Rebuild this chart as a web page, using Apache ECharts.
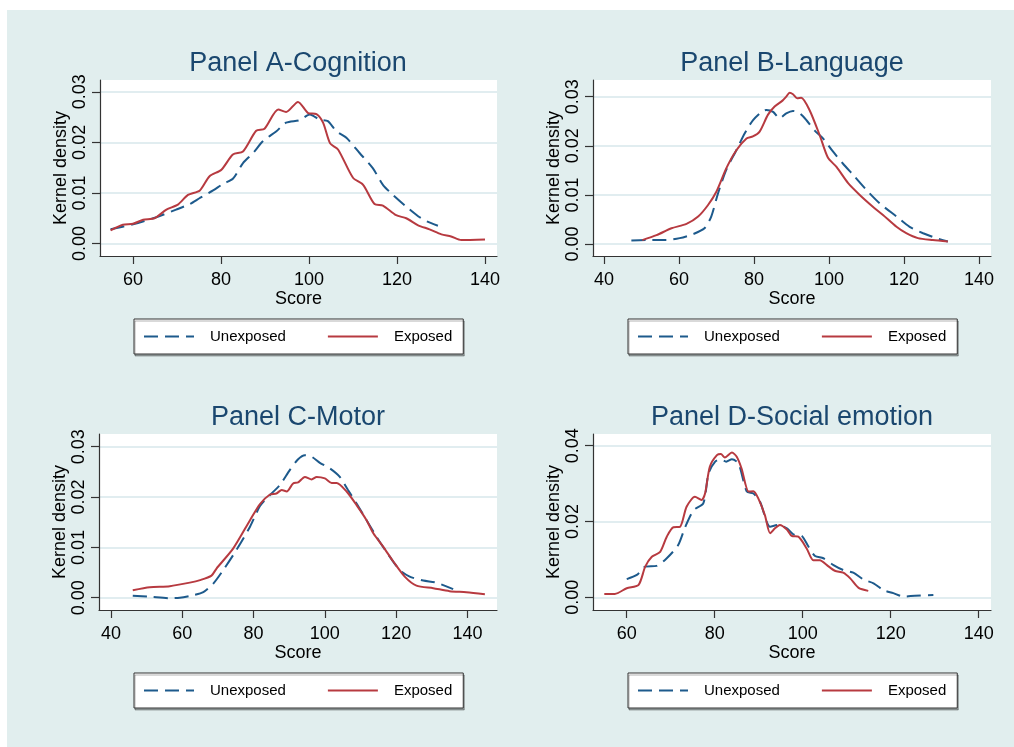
<!DOCTYPE html>
<html>
<head>
<meta charset="utf-8">
<script src="https://cdn.jsdelivr.net/npm/echarts@6/dist/echarts.min.js"></script>
<style>
html,body{margin:0;padding:0;background:#fff;}
#c{width:1014px;height:747px;}
</style>
</head>
<body>
<div id="c"></div>
<script>
// ---- Data ----
const panelTitles = ['Panel A-Cognition', 'Panel B-Language', 'Panel C-Motor', 'Panel D-Social emotion'];
const seriesNames = ['Unexposed', 'Exposed'];
const xTicksA = [60, 80, 100, 120, 140];
const xTicksB = [40, 60, 80, 100, 120, 140];
const xTicksC = [40, 60, 80, 100, 120, 140];
const xTicksD = [60, 80, 100, 120, 140];
const yTicksABC = [0, 0.01, 0.02, 0.03];
const yTicksD = [0, 0.02, 0.04];

const cognitionUnexposed = [[54.9,0.0028],[60,0.0038],[65.3,0.0052],[69.8,0.0067],[72.9,0.0078],[75.2,0.0090],[78.2,0.0105],[80.5,0.0118],[82.7,0.0128],[85,0.0159],[87.3,0.0179],[89.5,0.0202],[92.6,0.0222],[94.8,0.0239],[97.9,0.0244],[100.2,0.0255],[102.4,0.0245],[104.3,0.0242],[106.2,0.0222],[108.5,0.0209],[111.5,0.0179],[114.5,0.0149],[116.8,0.0116],[119.1,0.0096],[122.1,0.0073],[124.8,0.0054],[126.7,0.0044],[129.3,0.0035]];
const cognitionExposed = [[54.9,0.0026],[57.7,0.0037],[60,0.0039],[62.3,0.0047],[64.9,0.0050],[67.6,0.0067],[70.2,0.0077],[72.5,0.0096],[75.2,0.0105],[77.4,0.0133],[80.1,0.0146],[82.7,0.0176],[85.0,0.0182],[88.0,0.0223],[89.9,0.0227],[93.0,0.0265],[94.8,0.0260],[97.5,0.0280],[99.8,0.0258],[101.7,0.0256],[103.2,0.0239],[104.8,0.0198],[106.6,0.0186],[110,0.0130],[112.3,0.0116],[114.9,0.0078],[116.8,0.0075],[119.8,0.0056],[122.1,0.0050],[124.8,0.0036],[127.4,0.0028],[130.1,0.0018],[132.3,0.0014],[134.6,0.0007],[140,0.0008]];
const languageUnexposed = [[47.3,0.0007],[51.7,0.0008],[56.6,0.0008],[60.2,0.0012],[63.7,0.0020],[66.8,0.0032],[68.6,0.0056],[70.4,0.0103],[72.6,0.0151],[75.3,0.0191],[77.5,0.0225],[79.7,0.0252],[82.0,0.0269],[83.3,0.0273],[85.1,0.0269],[86.8,0.0256],[88.6,0.0266],[90.4,0.0271],[92.2,0.0266],[94.0,0.0252],[96.2,0.0231],[98.4,0.0215],[101.1,0.0188],[103.7,0.0164],[106.4,0.0141],[110.0,0.0110],[113.5,0.0083],[118.0,0.0056],[121.5,0.0035],[125.1,0.0022],[128.6,0.0012],[131.7,0.0005]];
const languageExposed = [[50.2,0.0008],[54.0,0.0018],[58.0,0.0032],[62.0,0.0041],[65.1,0.0056],[67.7,0.0079],[70.0,0.0107],[72.6,0.0154],[75.3,0.0191],[78.0,0.0215],[79.7,0.0219],[81.5,0.0229],[83.7,0.0263],[85.5,0.0280],[87.6,0.0292],[88.6,0.0300],[89.5,0.0308],[90.4,0.0305],[91.5,0.0297],[92.6,0.0298],[94.8,0.0273],[97.5,0.0222],[99.7,0.0176],[102.0,0.0157],[105.1,0.0124],[108.2,0.0100],[111.7,0.0076],[114.4,0.0059],[118.0,0.0035],[120.6,0.0022],[123.7,0.0012],[127.7,0.0008],[131.7,0.0005]];
const motorUnexposed = [[46.1,0.0004],[50.9,0.0002],[56.5,-0.0001],[59.3,0.0000],[63.1,0.0005],[65.9,0.0011],[68.7,0.0028],[71.5,0.0055],[75.2,0.0095],[79.0,0.0141],[81.8,0.0182],[84.6,0.0204],[87.4,0.0224],[90.2,0.0254],[92.5,0.0275],[94.4,0.0283],[96.3,0.0280],[98.6,0.0268],[101.4,0.0257],[104.2,0.0240],[106.5,0.0214],[108.9,0.0187],[111.7,0.0154],[114.5,0.0121],[117.3,0.0091],[121.0,0.0055],[123.8,0.0042],[127.6,0.0034],[131.3,0.0030],[136.0,0.0017]];
const motorExposed = [[46.1,0.0015],[50.9,0.0021],[56.5,0.0023],[62.1,0.0030],[65.0,0.0035],[68.2,0.0044],[69.6,0.0058],[74.3,0.0098],[79.0,0.0154],[81.8,0.0186],[84.6,0.0205],[86.4,0.0207],[87.9,0.0214],[89.3,0.0211],[91.1,0.0227],[92.5,0.0229],[94.4,0.0240],[96.3,0.0235],[97.7,0.0240],[100.0,0.0237],[101.9,0.0228],[103.3,0.0228],[106.1,0.0211],[108.9,0.0184],[111.7,0.0154],[113.6,0.0128],[116.4,0.0101],[119.2,0.0072],[122.4,0.0042],[125.7,0.0024],[130.4,0.0019],[135.0,0.0013],[139.7,0.0011],[144.9,0.0007]];
const socialUnexposed = [[60,0.0048],[62.3,0.0059],[64.2,0.0081],[66.8,0.0083],[69.1,0.0103],[71.7,0.0138],[73.3,0.0186],[75.2,0.0230],[77.4,0.0248],[78.6,0.0327],[80.1,0.0358],[81.4,0.0364],[82.6,0.0358],[83.9,0.0364],[85.4,0.0353],[87.3,0.0279],[88.8,0.0274],[90.3,0.0252],[92.6,0.0186],[94.5,0.0191],[96.4,0.0182],[97.9,0.0166],[99.8,0.0162],[101.3,0.0134],[102.8,0.0109],[104.7,0.0103],[107.0,0.0085],[109.2,0.0072],[111.5,0.0065],[113.8,0.0047],[116.1,0.0037],[118.3,0.0019],[120.6,0.0011],[122.9,0.0002],[125.5,0.0004],[129.7,0.0006]];
const socialExposed = [[54.9,0.0009],[57.3,0.0009],[60,0.0024],[62.7,0.0033],[64.2,0.0081],[65.7,0.0107],[67.6,0.0120],[69.1,0.0160],[70.6,0.0185],[72.1,0.0186],[73.6,0.0239],[75.5,0.0265],[77.0,0.0257],[77.8,0.0274],[78.9,0.0345],[80.5,0.0375],[81.4,0.0378],[82.3,0.0369],[83.9,0.0382],[85.0,0.0371],[86.1,0.0340],[87.7,0.0279],[88.8,0.0280],[89.9,0.0261],[91.4,0.0217],[92.6,0.0169],[93.7,0.0182],[94.8,0.0191],[96.4,0.0179],[97.5,0.0162],[99.0,0.0160],[100.9,0.0129],[102.4,0.0098],[103.9,0.0098],[105.5,0.0085],[107.3,0.0070],[109.2,0.0065],[110.8,0.0050],[112.7,0.0025],[114.9,0.0017]];

// ---- Layout / style ----
const FONT = "'Liberation Sans', Arial, sans-serif";
const BLUE = '#1d5a8c';
const RED = '#b73a40';
const TITLE_COLOR = '#1a476f';

const panels = [
  {grid:{left:100, top:80, width:397, height:176}, xr:[52.5,142.73], yr:[-0.00247,0.03233], xt:xTicksA, yt:yTicksABC, data:[cognitionUnexposed, cognitionExposed], tx:298, ty:64, legend:{left:134, top:319}},
  {grid:{left:593, top:80, width:398, height:176}, xr:[37.07,143.2], yr:[-0.00244,0.0334], xt:xTicksB, yt:yTicksABC, data:[languageUnexposed, languageExposed], tx:792, ty:64, legend:{left:628, top:319}},
  {grid:{left:99, top:434, width:398, height:176}, xr:[36.63,148.3], yr:[-0.00244,0.03252], xt:xTicksC, yt:yTicksABC, data:[motorUnexposed, motorExposed], tx:298, ty:418, legend:{left:134, top:673}},
  {grid:{left:593, top:434, width:398, height:176}, xr:[52.33,142.8], yr:[-0.00335,0.04309], xt:xTicksD, yt:yTicksD, data:[socialUnexposed, socialExposed], tx:792, ty:418, legend:{left:628, top:673}}
];

const grids = [], xAxes = [], yAxes = [], series = [], legends = [], graphics = [];

graphics.push({type:'rect', shape:{x:7, y:10, width:1007, height:737}, style:{fill:'#e1eeee'}, z:-10, silent:true});

panels.forEach((p, i) => {
  grids.push(Object.assign({show:true, backgroundColor:'#ffffff', borderWidth:0}, p.grid));
  xAxes.push({
    type:'value', gridIndex:i, min:p.xr[0], max:p.xr[1],
    name:'Score', nameLocation:'middle', nameGap:32,
    nameTextStyle:{fontFamily:FONT, fontSize:18, color:'#000'},
    axisLine:{show:true, onZero:false, lineStyle:{color:'#333', width:1.2}},
    axisTick:{show:true, length:8, customValues:p.xt, lineStyle:{color:'#333', width:1.2}},
    axisLabel:{customValues:p.xt, margin:15, fontFamily:FONT, fontSize:18, color:'#000'},
    splitLine:{show:false}
  });
  yAxes.push({
    type:'value', gridIndex:i, min:p.yr[0], max:p.yr[1],
    name:'Kernel density', nameLocation:'middle', nameGap:30, nameRotate:90,
    nameTextStyle:{fontFamily:FONT, fontSize:18, color:'#000'},
    axisLine:{show:true, onZero:false, lineStyle:{color:'#333', width:1.2}},
    axisTick:{show:true, length:8, customValues:p.yt, lineStyle:{color:'#333', width:1.2}},
    axisLabel:{customValues:p.yt, rotate:90, margin:11, fontFamily:FONT, fontSize:18, color:'#000',
      formatter:(v)=>Number(v).toFixed(2)},
    splitLine:{show:true, lineStyle:{color:'#e1edf0', width:2}}
  });
  series.push({
    name:seriesNames[0], type:'line', xAxisIndex:i, yAxisIndex:i, data:p.data[0],
    showSymbol:false, symbol:'none', smooth:0.25,
    lineStyle:{color:BLUE, width:2, type:[14,7]}, itemStyle:{color:BLUE}, z:2
  });
  series.push({
    name:seriesNames[1], type:'line', xAxisIndex:i, yAxisIndex:i, data:p.data[1],
    showSymbol:false, symbol:'none', smooth:0.25,
    lineStyle:{color:RED, width:2}, itemStyle:{color:RED}, z:3
  });
  legends.push({
    left:p.legend.left, top:p.legend.top, orient:'horizontal',
    data:seriesNames, itemWidth:50, itemHeight:14, itemGap:41,
    backgroundColor:'#ffffff', borderColor:'#333', borderWidth:1, borderRadius:0,
    padding:[10,11,10,9],
    shadowColor:'rgba(0,0,0,0.3)', shadowOffsetX:1, shadowOffsetY:2, shadowBlur:0,
    itemStyle:{opacity:0},
    textStyle:{fontFamily:FONT, fontSize:15, color:'#000', padding:[0,0,0,11]},
    selectedMode:false
  });
  graphics.push({type:'text', x:p.tx, y:p.ty, style:{text:panelTitles[i], fill:TITLE_COLOR, font:'27px ' + FONT, textAlign:'center', textVerticalAlign:'middle'}});
});

const chart = echarts.init(document.getElementById('c'), null, {renderer:'canvas'});
chart.setOption({
  backgroundColor:'#ffffff',
  animation:false,
  grid:grids, xAxis:xAxes, yAxis:yAxes, series:series, legend:legends,
  graphic:graphics
});
</script>
</body>
</html>
